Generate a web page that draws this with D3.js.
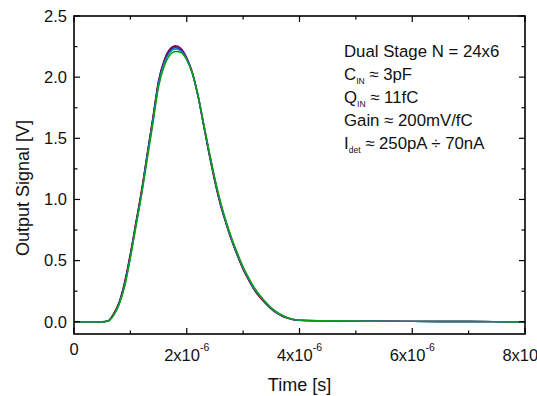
<!DOCTYPE html>
<html>
<head>
<meta charset="utf-8">
<script src="https://cdn.jsdelivr.net/npm/d3@7"></script>
<style>
  body { margin: 0; background: #fff; }
  svg { display: block; font-family: 'Liberation Sans', Arial, sans-serif; }
</style>
</head>
<body>
<svg id="chart" width="537" height="396"></svg>
<script>
// DATA (time in microseconds, signal in volts)
const timeUs = [0, 0.5, 0.6, 0.7, 0.8, 0.9, 1.0, 1.1, 1.2, 1.3, 1.4, 1.5, 1.6, 1.7, 1.8, 1.9,
  2.0, 2.1, 2.2, 2.3, 2.4, 2.5, 2.6, 2.7, 2.8, 2.9, 3.0, 3.1, 3.2, 3.3, 3.4, 3.5, 3.6, 3.7,
  3.8, 3.9, 4.0, 4.5, 5.0, 6.0, 7.0, 8.0];

const wineSeries = [0, 0, 0.008, 0.065, 0.16, 0.33, 0.56, 0.82, 1.08, 1.38, 1.67, 1.97, 2.13, 2.22,
  2.25, 2.22, 2.15, 2.03, 1.84, 1.60, 1.36, 1.14, 0.95, 0.80, 0.66, 0.54, 0.43, 0.34, 0.26, 0.20,
  0.15, 0.105, 0.07, 0.045, 0.028, 0.017, 0.011, 0.007, 0.005, 0.003, 0.002, 0];
const purpleSeries = [0, 0, 0.006, 0.06, 0.155, 0.32, 0.55, 0.81, 1.07, 1.37, 1.67, 1.97, 2.14, 2.23,
  2.258, 2.235, 2.16, 2.04, 1.85, 1.61, 1.37, 1.15, 0.96, 0.80, 0.66, 0.54, 0.43, 0.34, 0.26, 0.20,
  0.15, 0.105, 0.07, 0.045, 0.028, 0.017, 0.011, 0.007, 0.005, 0.003, 0.002, 0];
const blueSeries = [0, 0, 0.005, 0.055, 0.15, 0.31, 0.54, 0.80, 1.06, 1.36, 1.65, 1.95, 2.12, 2.21,
  2.24, 2.22, 2.15, 2.03, 1.85, 1.61, 1.38, 1.16, 0.96, 0.81, 0.67, 0.55, 0.44, 0.35, 0.27, 0.21,
  0.155, 0.11, 0.075, 0.048, 0.03, 0.018, 0.012, 0.008, 0.005, 0.003, 0.002, 0];
const cyanSeries = [0, 0, 0.005, 0.052, 0.145, 0.30, 0.53, 0.79, 1.05, 1.35, 1.64, 1.94, 2.11, 2.20,
  2.23, 2.21, 2.145, 2.03, 1.85, 1.62, 1.38, 1.16, 0.97, 0.81, 0.67, 0.55, 0.44, 0.35, 0.27, 0.21,
  0.16, 0.11, 0.075, 0.05, 0.031, 0.019, 0.012, 0.008, 0.005, 0.003, 0.002, 0];
const greenSeries = [0, 0, 0.004, 0.05, 0.14, 0.29, 0.52, 0.78, 1.04, 1.33, 1.62, 1.92, 2.09, 2.18,
  2.21, 2.20, 2.14, 2.03, 1.85, 1.62, 1.39, 1.17, 0.98, 0.82, 0.68, 0.56, 0.45, 0.36, 0.28, 0.215,
  0.16, 0.115, 0.08, 0.052, 0.032, 0.02, 0.013, 0.008, 0.005, 0.003, 0.002, 0];

const seriesList = [
  { name: 'purple', values: purpleSeries, color: '#800080' },
  { name: 'wine', values: wineSeries, color: '#8b0000' },
  { name: 'blue', values: blueSeries, color: '#2233cc' },
  { name: 'cyan', values: cyanSeries, color: '#00a0b0' },
  { name: 'green', values: greenSeries, color: '#119911' },
];

const xTicks = [0, 2e-6, 4e-6, 6e-6, 8e-6];
const xMinorTicks = [1e-6, 3e-6, 5e-6, 7e-6];
const yTicks = [0, 0.5, 1.0, 1.5, 2.0, 2.5];
const yMinorTicks = [0.25, 0.75, 1.25, 1.75, 2.25];

const annotation = [
  { main: 'Dual Stage N = 24x6', sub: '', rest: '' },
  { main: 'C', sub: 'IN', rest: ' \u2248 3pF' },
  { main: 'Q', sub: 'IN', rest: ' \u2248 11fC' },
  { main: 'Gain \u2248 200mV/fC', sub: '', rest: '' },
  { main: 'I', sub: 'det', rest: ' \u2248 250pA \u00f7 70nA' },
];

// LAYOUT
const plotLeft = 74, plotRight = 525, plotTop = 16, plotBottom = 334;
const svg = d3.select('#chart');

const x = d3.scaleLinear().domain([0, 8e-6]).range([plotLeft, plotRight]);
const y = d3.scaleLinear().domain([-0.1, 2.5]).range([plotBottom, plotTop]);

// Curves
const line = d3.line()
  .x((d) => x(d[0] * 1e-6))
  .y((d) => y(d[1]))
  .curve(d3.curveMonotoneX);

svg.append('g')
  .selectAll('path.series')
  .data(seriesList)
  .join('path')
  .attr('class', 'series')
  .attr('fill', 'none')
  .attr('stroke', (d) => d.color)
  .attr('stroke-width', 1.4)
  .attr('d', (d) => line(timeUs.map((t, i) => [t, d.values[i]])));

// Frame
svg.append('rect')
  .attr('x', plotLeft).attr('y', plotTop)
  .attr('width', plotRight - plotLeft).attr('height', plotBottom - plotTop)
  .attr('fill', 'none').attr('stroke', '#000').attr('stroke-width', 1.6);

// Inward ticks on all four sides
const major = 6, minor = 3.5;
const tickG = svg.append('g').attr('stroke', '#000').attr('stroke-width', 1.2);
function xTick(v, len) {
  tickG.append('line').attr('x1', x(v)).attr('x2', x(v)).attr('y1', plotBottom).attr('y2', plotBottom - len);
  tickG.append('line').attr('x1', x(v)).attr('x2', x(v)).attr('y1', plotTop).attr('y2', plotTop + len);
}
function yTick(v, len) {
  tickG.append('line').attr('y1', y(v)).attr('y2', y(v)).attr('x1', plotLeft).attr('x2', plotLeft + len);
  tickG.append('line').attr('y1', y(v)).attr('y2', y(v)).attr('x1', plotRight).attr('x2', plotRight - len);
}
xTicks.forEach((v) => xTick(v, major));
xMinorTicks.forEach((v) => xTick(v, minor));
yTicks.forEach((v) => yTick(v, major));
yMinorTicks.forEach((v) => yTick(v, minor));

// Y tick labels
svg.append('g')
  .selectAll('text')
  .data(yTicks)
  .join('text')
  .attr('x', 67)
  .attr('y', (d) => y(d) + 5.8)
  .attr('text-anchor', 'end')
  .attr('font-size', 16.5)
  .attr('fill', '#111')
  .text((d) => d3.format('.1f')(d));

// X tick labels (scientific with superscript)
const xl = svg.append('g').attr('font-size', 16.5).attr('fill', '#111');
xTicks.forEach((v) => {
  if (v === 0) {
    xl.append('text').attr('x', x(v)).attr('y', 355).attr('text-anchor', 'middle').text('0');
    return;
  }
  const t = xl.append('text').attr('x', x(v)).attr('y', 361).attr('text-anchor', 'middle');
  t.append('tspan').text(`${Math.round(v * 1e6)}x10`);
  t.append('tspan').attr('font-size', 10.5).attr('dy', -10).text('-6');
});

// Axis titles
svg.append('text')
  .attr('x', (plotLeft + plotRight) / 2)
  .attr('y', 391)
  .attr('text-anchor', 'middle')
  .attr('font-size', 18)
  .attr('fill', '#111')
  .text('Time [s]');

svg.append('text')
  .attr('transform', 'translate(29,188) rotate(-90)')
  .attr('text-anchor', 'middle')
  .attr('font-size', 18)
  .attr('fill', '#111')
  .text('Output Signal [V]');

// Annotation block
const ann = svg.append('g').attr('font-size', 16.8).attr('fill', '#111');
annotation.forEach((row, i) => {
  const t = ann.append('text').attr('x', 344).attr('y', 57 + i * 23);
  t.append('tspan').text(row.main);
  if (row.sub) {
    t.append('tspan').attr('font-size', 8.5).attr('dy', 4).text(row.sub);
    t.append('tspan').attr('dy', -4).text(row.rest);
  }
});
</script>
</body>
</html>
